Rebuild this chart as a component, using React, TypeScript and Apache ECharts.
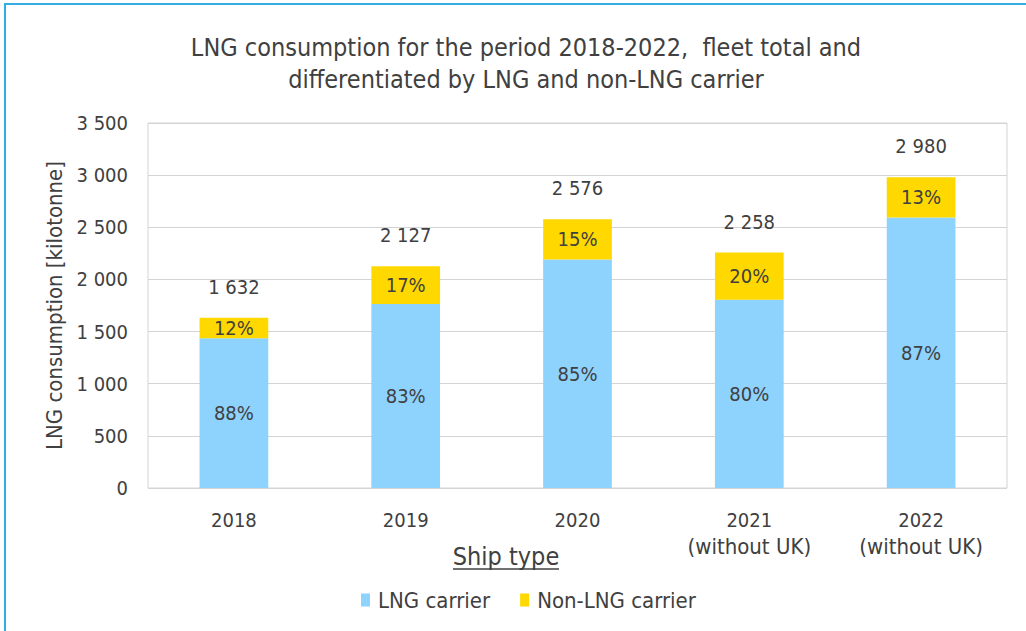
import React, { useEffect, useRef } from "react";
import * as echarts from "echarts";

const categories = ["2018", "2019", "2020", "2021\n(without UK)", "2022\n(without UK)"];
const totals = [1632, 2127, 2576, 2258, 2980];
const lngCarrier = [1436, 1765, 2190, 1806, 2593];
const nonLngCarrier = [196, 362, 386, 452, 387];
const lngPct = [88, 83, 85, 80, 87];
const nonLngPct = [12, 17, 15, 20, 13];
const yTicks = { min: 0, max: 3500, interval: 500 };

const FONT = "'DejaVu Sans Condensed', 'DejaVu Sans', sans-serif";
const TXT = "#404040";

const fmt = (v: number) => String(v).replace(/\B(?=(\d{3})+(?!\d))/g, " ");

export default function App() {
  const ref = useRef<HTMLDivElement>(null);
  useEffect(() => {
    if (!ref.current) return;
    const chart = echarts.init(ref.current, undefined, { renderer: "svg" });
    chart.setOption({
      animation: false,
      backgroundColor: "#ffffff",
      textStyle: { fontFamily: FONT },
      title: {
        text: "LNG consumption for the period 2018-2022,  fleet total and\ndifferentiated by LNG and non-LNG carrier",
        left: 521,
        top: 26,
        textAlign: "center",
        textStyle: { fontFamily: FONT, fontSize: 25, fontWeight: "normal", color: TXT, lineHeight: 32 },
      },
      grid: {
        left: 148,
        top: 123,
        right: 19,
        bottom: 143,
        show: true,
        borderColor: "#D4D4D4",
        borderWidth: 1,
        containLabel: false,
      },
      legend: {
        left: 356,
        top: 584,
        itemWidth: 9,
        itemHeight: 13,
        itemGap: 30,
        icon: "rect",
        data: ["LNG carrier", "Non-LNG carrier"],
        textStyle: { fontFamily: FONT, fontSize: 22, color: TXT, padding: [0, 0, 0, 3] },
      },
      xAxis: {
        type: "category",
        data: categories,
        axisLine: { show: false },
        axisTick: { show: false },
        axisLabel: {
          interval: 0,
          fontFamily: FONT,
          fontSize: 20,
          color: TXT,
          margin: 19,
          lineHeight: 26,
          formatter: (v: string) => {
            const parts = v.split("\n");
            return parts.length > 1 ? parts[0] + "\n{p|" + parts[1] + "}" : parts[0];
          },
          rich: { p: { fontFamily: FONT, fontSize: 22, color: TXT, lineHeight: 26 } },
        },
      },
      yAxis: {
        type: "value",
        min: yTicks.min,
        max: yTicks.max,
        interval: yTicks.interval,
        name: "LNG consumption [kilotonne]",
        nameLocation: "middle",
        nameGap: 83,
        nameTextStyle: { fontFamily: FONT, fontSize: 22, color: TXT },
        axisLine: { show: false },
        axisTick: { show: false },
        splitLine: { lineStyle: { color: "#D4D4D4", width: 1 } },
        axisLabel: { fontFamily: FONT, fontSize: 20, color: TXT, margin: 20, formatter: (v: number) => fmt(v) },
      },
      graphic: [
        {
          type: "rect",
          shape: { x: 5, y: 4, width: 1100, height: 700 },
          style: { fill: "none", stroke: "#33AEE3", lineWidth: 2 },
          silent: true,
        },
        {
          type: "text",
          x: 506,
          y: 556,
          style: {
            text: "Ship type",
            fontFamily: FONT,
            fontSize: 25,
            fill: TXT,
            align: "center",
            verticalAlign: "middle",
          },
        },
        {
          type: "line",
          shape: { x1: 453, y1: 569, x2: 559, y2: 569 },
          style: { stroke: TXT, lineWidth: 1.5 },
        },
      ],
      series: [
        {
          name: "LNG carrier",
          type: "bar",
          stack: "total",
          barWidth: "40%",
          data: lngCarrier,
          itemStyle: { color: "#8ED2FE" },
          label: {
            show: true,
            position: "inside",
            fontFamily: FONT,
            fontSize: 20,
            color: TXT,
            formatter: (p: any) => lngPct[p.dataIndex] + "%",
          },
        },
        {
          name: "Non-LNG carrier",
          type: "bar",
          stack: "total",
          barWidth: "40%",
          data: nonLngCarrier,
          itemStyle: { color: "#FFD800" },
          label: {
            show: true,
            position: "inside",
            fontFamily: FONT,
            fontSize: 20,
            color: TXT,
            formatter: (p: any) => nonLngPct[p.dataIndex] + "%",
          },
        },
        {
          name: "Total",
          type: "bar",
          barWidth: "40%",
          barGap: "-100%",
          data: totals,
          z: 0,
          itemStyle: { color: "rgba(0,0,0,0)" },
          label: {
            show: true,
            position: "top",
            distance: 21,
            fontFamily: FONT,
            fontSize: 20,
            color: TXT,
            formatter: (p: any) => fmt(p.value),
          },
          tooltip: { show: false },
        },
      ],
    });
    return () => chart.dispose();
  }, []);
  return (
    <div
      ref={ref}
      style={{ position: "fixed", left: 0, top: 0, width: 1026, height: 631 }}
    />
  );
}
